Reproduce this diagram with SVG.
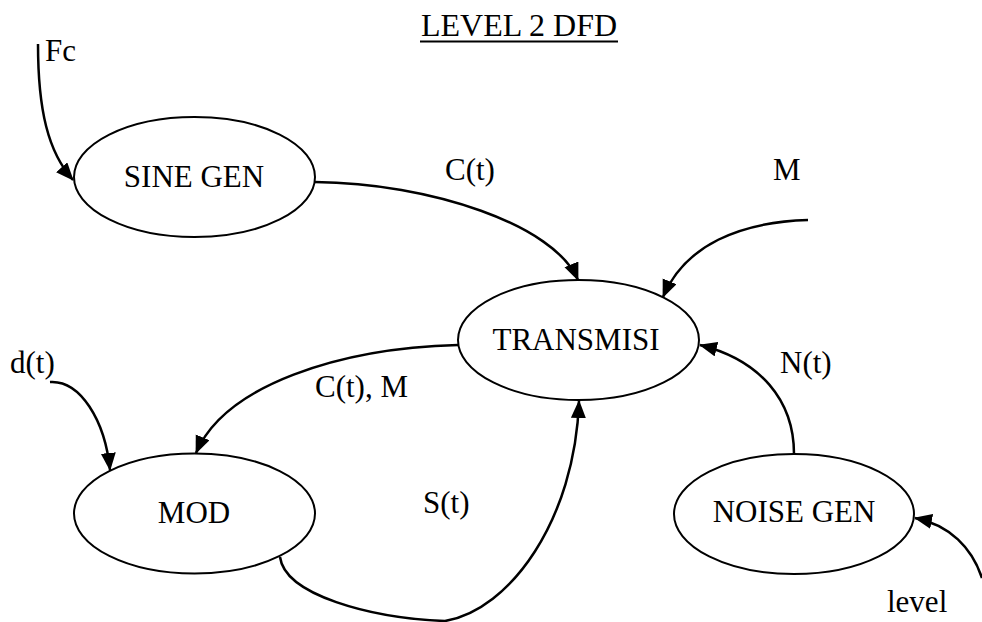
<svg xmlns="http://www.w3.org/2000/svg" width="982" height="622" viewBox="0 0 982 622">
<style>
  .node ellipse { fill: #fff; stroke: #000; stroke-width: 2; }
  text { font-family: "Liberation Serif", "Times New Roman", serif; font-size: 31px; fill: #000; }
  .c { text-anchor: middle; }
  .edge { fill: none; stroke: #000; stroke-width: 2.5; }
</style>
<defs>
  <marker id="arr" markerUnits="userSpaceOnUse" markerWidth="20" markerHeight="16" refX="17" refY="7.5" orient="auto">
    <path d="M0,0 L18,7.5 L0,15 z" fill="#000"/>
  </marker>
</defs>
<rect width="982" height="622" fill="#fff"/>
<g id="title">
  <text x="519" y="36" class="c" style="font-size:32px">LEVEL 2 DFD</text>
  <line x1="420" y1="41.5" x2="618" y2="41.5" stroke="#000" stroke-width="2"/>
</g>
<g id="connectors">
  <path class="edge" marker-end="url(#arr)" d="M38,44 C38,110 48,152 73,180"/>
  <path class="edge" marker-end="url(#arr)" d="M315,182 C430,183 555,225 578,280"/>
  <path class="edge" marker-end="url(#arr)" d="M808,220 C740,222 685,245 663,297"/>
  <path class="edge" marker-end="url(#arr)" d="M458,345 C340,348 225,385 196,453"/>
  <path class="edge" marker-end="url(#arr)" d="M50,382 C80,380 105,420 110,470"/>
  <path class="edge" marker-end="url(#arr)" d="M280,557 C285,595 370,618 445,621 C510,610 575,520 579,401"/>
  <path class="edge" marker-end="url(#arr)" d="M794,454 C794,400 760,360 700,345"/>
  <path class="edge" marker-end="url(#arr)" d="M982,578 C972,548 950,525 915,518"/>
</g>
<g id="labels">
  <text x="45" y="61">Fc</text>
  <text x="445" y="180">C(t)</text>
  <text x="773" y="180">M</text>
  <text x="780" y="373">N(t)</text>
  <text x="10" y="373">d(t)</text>
  <text x="315" y="397">C(t), M</text>
  <text x="423" y="513">S(t)</text>
  <text x="887" y="612">level</text>
</g>
<g id="sine-gen" class="node">
  <ellipse cx="194.5" cy="177" rx="120.5" ry="60"/>
  <text x="194" y="187" class="c">SINE GEN</text>
</g>
<g id="transmisi" class="node">
  <ellipse cx="578.5" cy="340" rx="120.5" ry="60"/>
  <text x="576" y="350" class="c">TRANSMISI</text>
</g>
<g id="mod" class="node">
  <ellipse cx="194.5" cy="513.5" rx="120.5" ry="60"/>
  <text x="194" y="523" class="c">MOD</text>
</g>
<g id="noise-gen" class="node">
  <ellipse cx="794" cy="514" rx="120" ry="60"/>
  <text x="794" y="522" class="c">NOISE GEN</text>
</g>
</svg>
